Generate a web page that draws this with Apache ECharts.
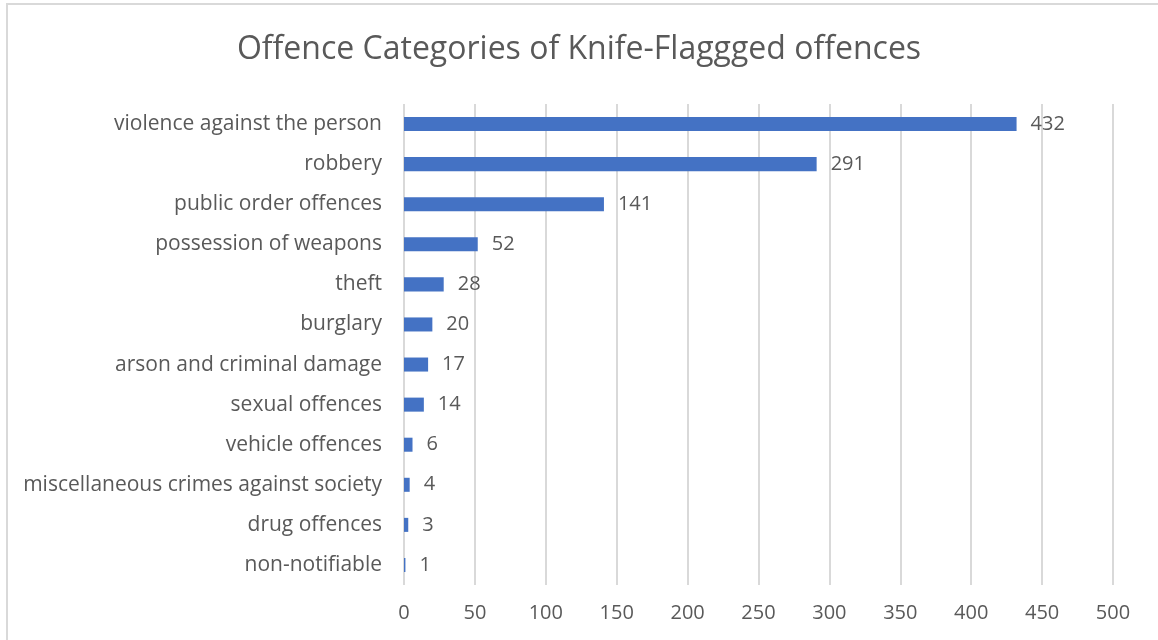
<!DOCTYPE html>
<html>
<head>
<meta charset="utf-8">
<script src="https://cdn.jsdelivr.net/npm/echarts@6/dist/echarts.min.js"></script>
<style>
  html, body { margin: 0; padding: 0; background: #fff; }
  #chart { width: 1158px; height: 640px; position: relative; }
  #frame { position: absolute; left: 6px; top: 3px; right: -10px; bottom: -10px; border: 2px solid #d9d9d9; pointer-events: none; box-sizing: border-box; }
</style>
</head>
<body>
<div id="chart"></div>
<script>
// Offence categories (top to bottom as shown) and their counts
const categories = [
  'violence against the person',
  'robbery',
  'public order offences',
  'possession of weapons',
  'theft',
  'burglary',
  'arson and criminal damage',
  'sexual offences',
  'vehicle offences',
  'miscellaneous crimes against society',
  'drug offences',
  'non-notifiable'
];
const counts = [432, 291, 141, 52, 28, 20, 17, 14, 6, 4, 3, 1];
const titleText = 'Offence Categories of Knife-Flaggged offences';

const chart = echarts.init(document.getElementById('chart'), null, { renderer: 'canvas' });
const textColor = '#595959';
const font = '"Open Sans", "Noto Sans", sans-serif';

chart.setOption({
  animation: false,
  backgroundColor: '#ffffff',
  title: {
    text: titleText,
    left: 'center',
    top: 29,
    textStyle: { color: textColor, fontSize: 32, fontWeight: 'normal', fontFamily: font }
  },
  grid: { left: 404, right: 45, top: 104, bottom: 55, containLabel: false },
  xAxis: {
    type: 'value',
    min: 0,
    max: 500,
    interval: 50,
    axisLine: { show: false },
    axisTick: { show: false },
    axisLabel: { color: textColor, fontSize: 20, fontFamily: font, margin: 18 },
    splitLine: { show: true, lineStyle: { color: '#d9d9d9', width: 2 } }
  },
  yAxis: {
    type: 'category',
    inverse: true,
    data: categories,
    axisLine: { show: false },
    axisTick: { show: false },
    axisLabel: { color: textColor, fontSize: 21, fontFamily: font, margin: 22 }
  },
  series: [{
    type: 'bar',
    data: counts,
    barWidth: '35%',
    itemStyle: { color: '#4472c4' },
    label: {
      show: true,
      position: 'right',
      distance: 14,
      color: textColor,
      fontSize: 20,
      fontFamily: font
    }
  }]
});
</script>
<div id="frame"></div>
</body>
</html>
